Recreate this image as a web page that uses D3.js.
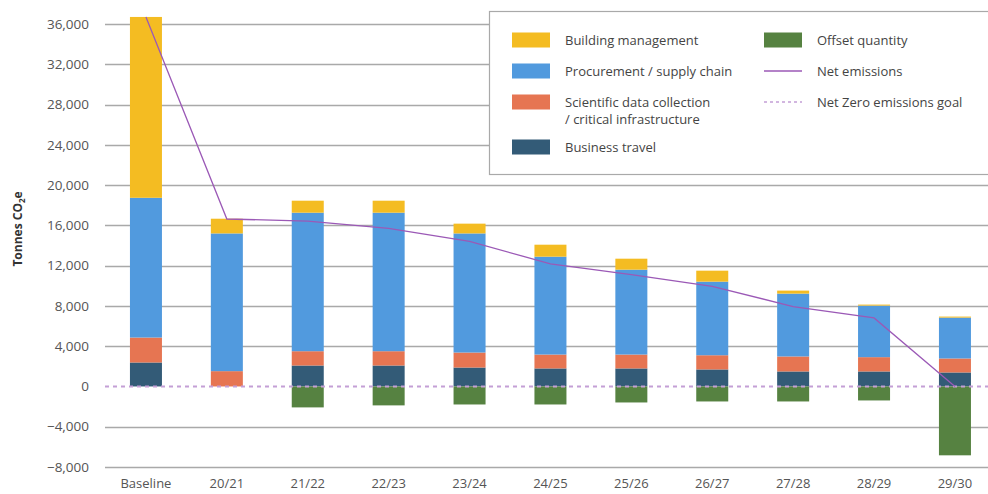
<!DOCTYPE html>
<html>
<head>
<meta charset="utf-8">
<script src="https://cdn.jsdelivr.net/npm/d3@7"></script>
<style>
body { margin: 0; background: #fff; }
svg { font-family: "Open Sans", "Noto Sans", sans-serif; }
</style>
</head>
<body>
<svg width="988" height="494"></svg>
<script>
var categories = ["Baseline", "20/21", "21/22", "22/23", "23/24", "24/25", "25/26", "26/27", "27/28", "28/29", "29/30"];
var businessTravel = [2380, 0, 2080, 2080, 1880, 1790, 1790, 1690, 1490, 1490, 1390];
var scientificData = [2480, 1520, 1420, 1420, 1490, 1380, 1380, 1410, 1490, 1420, 1390];
var procurement = [13880, 13680, 13760, 13760, 11830, 9720, 8430, 7310, 6240, 5120, 4060];
var buildingMgmt = [17960, 1460, 1190, 1190, 970, 1190, 1090, 1090, 300, 100, 100];
var offsetQty = [0, 0, -2080, -1880, -1790, -1790, -1590, -1490, -1490, -1390, -6840];
var netEmissions = [36700, 16630, 16430, 15700, 14410, 12170, 11110, 9950, 7930, 6810, 0];
var yTicks = [-8000, -4000, 0, 4000, 8000, 12000, 16000, 20000, 24000, 28000, 32000, 36000];

var svg = d3.select("svg"),
	width = +svg.attr("width"),
	height = +svg.attr("height"),
	barWidth = 32;

var x = d3.scalePoint().domain(categories).range([105.5, 995.4]).padding(0.5);
var y = d3.scaleLinear().domain([-8000, 36000]).range([467, 24]);

var rows = categories.map(function (c, i) {
	return {
		cat: c,
		travel: businessTravel[i],
		science: scientificData[i],
		procurement: procurement[i],
		building: buildingMgmt[i],
		offset: offsetQty[i]
	};
});

var keys = ["travel", "science", "procurement", "building", "offset"];
var colors = {
	travel: "#335b77",
	science: "#e67552",
	procurement: "#519ade",
	building: "#f4bc22",
	offset: "#568241"
};

// gridlines
svg.append("g")
	.selectAll("line")
	.data(yTicks)
	.enter().append("line")
	.attr("x1", 105)
	.attr("x2", width)
	.attr("y1", function (d) { return Math.round(y(d)) + 0.5; })
	.attr("y2", function (d) { return Math.round(y(d)) + 0.5; })
	.attr("stroke", "#a9a9a9")
	.attr("stroke-width", function (d) { return d === 0 ? 0 : 1.5; });

// y labels
svg.append("g")
	.selectAll("text")
	.data(yTicks)
	.enter().append("text")
	.attr("x", 89)
	.attr("y", function (d) { return y(d); })
	.attr("dy", "0.35em")
	.attr("text-anchor", "end")
	.attr("fill", "#555")
	.style("font-size", "13.5px")
	.text(function (d) { return d3.format(",")(d); });

// y title
var title = svg.append("text")
	.attr("transform", "translate(22,229) rotate(-90)")
	.attr("text-anchor", "middle")
	.attr("fill", "#333")
	.style("font-size", "12px")
	.style("font-weight", "bold");
title.append("tspan").text("Tonnes CO");
title.append("tspan").attr("dy", 3).style("font-size", "8px").text("2");
title.append("tspan").attr("dy", -3).text("e");

// bars
var stack = d3.stack().keys(keys).offset(d3.stackOffsetDiverging);
var series = stack(rows);

svg.append("g")
	.selectAll("g")
	.data(series)
	.enter().append("g")
	.attr("fill", function (d) { return colors[d.key]; })
	.selectAll("rect")
	.data(function (d) { return d; })
	.enter().append("rect")
	.attr("x", function (d) { return x(d.data.cat) - barWidth / 2; })
	.attr("width", barWidth)
	.attr("y", function (d) { return y(Math.max(d[0], d[1])); })
	.attr("height", function (d) { return Math.abs(y(d[0]) - y(d[1])); });

// net zero goal
svg.append("line")
	.attr("x1", 105)
	.attr("x2", width)
	.attr("y1", y(0))
	.attr("y2", y(0))
	.attr("stroke", "#c49fd6")
	.attr("stroke-width", 2)
	.attr("stroke-dasharray", "4,4");

// net emissions line
var line = d3.line()
	.x(function (d, i) { return x(categories[i]); })
	.y(function (d) { return y(d); });

svg.append("path")
	.datum(netEmissions)
	.attr("d", line)
	.attr("fill", "none")
	.attr("stroke", "#9b59b6")
	.attr("stroke-width", 1.3);

// x labels
svg.append("g")
	.selectAll("text")
	.data(categories)
	.enter().append("text")
	.attr("x", function (d) { return x(d); })
	.attr("y", 483)
	.attr("dy", "0.35em")
	.attr("text-anchor", "middle")
	.attr("fill", "#555")
	.style("font-size", "13px")
	.text(function (d) { return d; });

// legend
var legend = svg.append("g");
legend.append("rect")
	.attr("x", 489.5)
	.attr("y", 11.5)
	.attr("width", 520)
	.attr("height", 163)
	.attr("fill", "#fff")
	.attr("stroke", "#a9a9a9")
	.attr("stroke-width", 1.2);

var legendItems = [
	{ type: "rect", color: colors.building, lines: ["Building management"], x: 512, y: 40 },
	{ type: "rect", color: colors.procurement, lines: ["Procurement / supply chain"], x: 512, y: 71 },
	{ type: "rect", color: colors.science, lines: ["Scientific data collection", "/ critical infrastructure"], x: 512, y: 102 },
	{ type: "rect", color: colors.travel, lines: ["Business travel"], x: 512, y: 147 },
	{ type: "rect", color: colors.offset, lines: ["Offset quantity"], x: 764, y: 40 },
	{ type: "line", color: "#9b59b6", lines: ["Net emissions"], x: 764, y: 71 },
	{ type: "dash", color: "#c49fd6", lines: ["Net Zero emissions goal"], x: 764, y: 102 }
];

legendItems.forEach(function (it) {
	if (it.type === "rect") {
		legend.append("rect")
			.attr("x", it.x).attr("y", it.y - 7.5)
			.attr("width", 38).attr("height", 15)
			.attr("fill", it.color);
	} else {
		legend.append("line")
			.attr("x1", it.x).attr("x2", it.x + 38)
			.attr("y1", it.y).attr("y2", it.y)
			.attr("stroke", it.color)
			.attr("stroke-width", it.type === "dash" ? 1.5 : 1.3)
			.attr("stroke-dasharray", it.type === "dash" ? "3,3" : null);
	}
	it.lines.forEach(function (t, j) {
		legend.append("text")
			.attr("x", it.x + 53)
			.attr("y", it.y + j * 17)
			.attr("dy", "0.35em")
			.attr("fill", "#444")
			.style("font-size", "13px")
			.text(t);
	});
});
</script>
</body>
</html>
